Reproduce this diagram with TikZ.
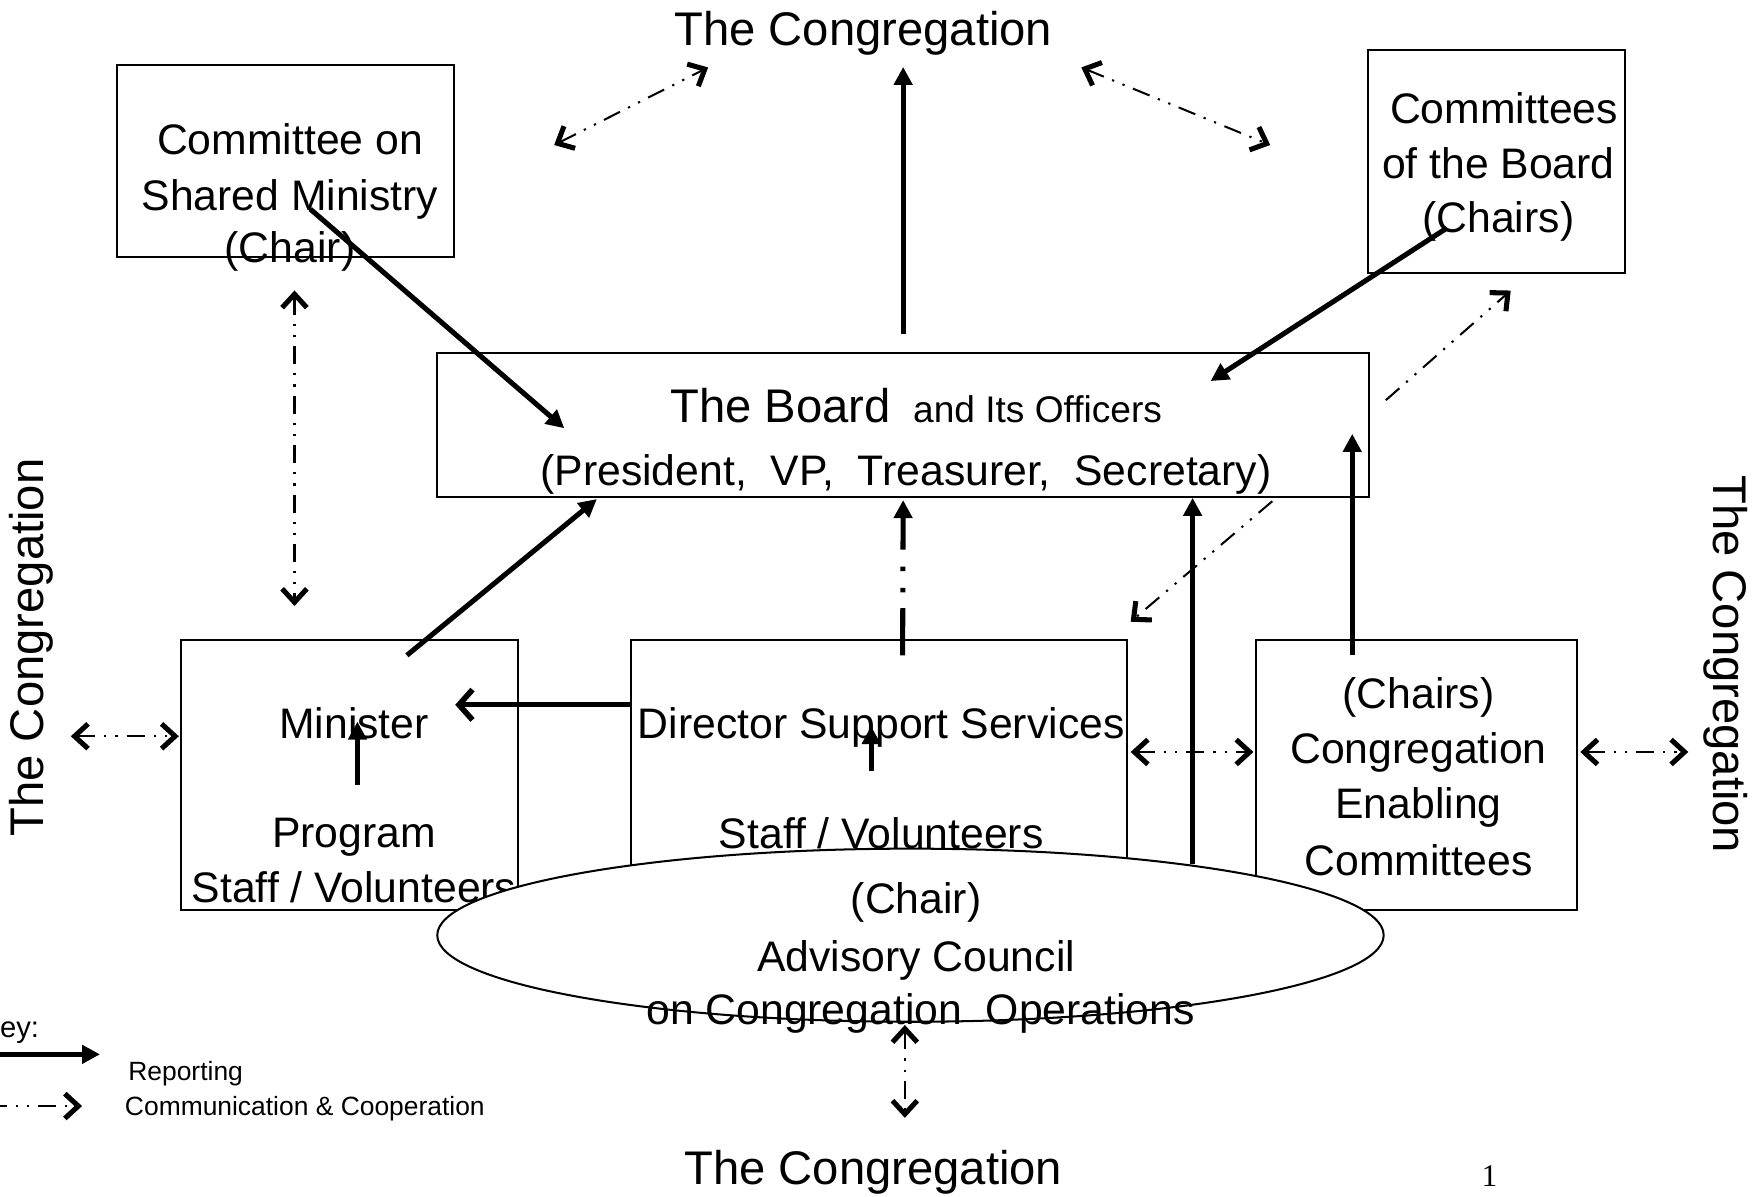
\documentclass[tikz,border=0pt]{standalone}
\usepackage{fontspec}
\setmainfont{Liberation Sans}
\newfontfamily\serifnum{Liberation Serif}
\usetikzlibrary{arrows.meta,calc,shapes.geometric}
\tikzset{
  bigtxt/.style={font=\fontsize{42}{50}\selectfont, inner sep=0pt, anchor=base},
  txt/.style={font=\fontsize{38}{50}\selectfont, inner sep=0pt, anchor=base},
  keytxt/.style={font=\fontsize{23.5}{28}\selectfont, inner sep=0pt, anchor=base west},
  box/.style={draw, rectangle, line width=1.8pt, inner sep=0pt},
  rep/.style={line width=4.5pt, -{Triangle[length=16pt,width=16pt]}},
  ctip/.tip={Straight Barb[length=12pt,width=22pt,line width=4.5pt]},
  commline/.style={line width=1.8pt, dash pattern=on 16pt off 8pt on 2pt off 8pt on 2pt off 8pt},
  comm2/.style={commline, ctip-ctip},
  comm1/.style={commline, -ctip},
}
\begin{document}
\begin{tikzpicture}[x=1pt,y=-1pt]
\useasboundingbox (0,0) rectangle (1564,1064.9);
% boxes
\node[box, minimum width=300pt, minimum height=171pt] (csm) at (254,143.5) {};
\node[box, minimum width=229pt, minimum height=198pt] (cob) at (1331.5,143.6) {};
\node[box, minimum width=829pt, minimum height=128pt] (board) at (803.5,378) {};
\node[box, minimum width=300pt, minimum height=241pt] (minister) at (311,689.5) {};
\node[box, minimum width=442pt, minimum height=241pt] (director) at (782,689.5) {};
\node[box, minimum width=286pt, minimum height=241pt] (enabling) at (1260,689.5) {};
% outer congregation labels
\node[bigtxt] (congTop) at (768,40.6) {The Congregation};
\node[bigtxt] (congBot) at (777,1053.5) {The Congregation};
\node[font=\fontsize{42}{50}\selectfont, inner sep=0pt, rotate=90] (congL) at (28,576) {The Congregation};
\node[font=\fontsize{42}{50}\selectfont, inner sep=0pt, rotate=-90] (congR) at (1535,591) {The Congregation};
% box texts
\node[txt] (csm1) at (258,137.5) {Committee on};
\node[txt] (csm2) at (258,187.7) {Shared Ministry};
\node[txt] (csm3) at (258,233.7) {(Chair)};
\node[txt] (cob1) at (1338,109.8) {Committees};
\node[txt] (cob2) at (1333,159) {of the Board};
\node[txt] (cob3) at (1333,206.6) {(Chairs)};
\node[inner sep=0pt, anchor=base] (board1) at (815,376) {{\fontsize{42}{50}\selectfont The Board}\hspace{20pt}{\fontsize{33}{40}\selectfont and Its Officers}};
\node[txt] (board2) at (806,432) {(President,\ \ VP,\ \ Treasurer,\ \ Secretary)};
\node[txt] (min1) at (315,657) {Minister};
\node[txt] (min2) at (315,754) {Program};
\node[txt] (min3) at (315,803) {Staff / Volunteers};
\node[txt] (dir1) at (784,657) {Director Support Services};
\node[txt] (dir2) at (784,755) {Staff / Volunteers};
\node[txt] (en1) at (1262,630) {(Chairs)};
\node[txt] (en2) at (1262,679.5) {Congregation};
\node[txt] (en3) at (1262,728) {Enabling};
\node[txt] (en4) at (1262,779) {Committees};
% reporting connectors
\draw[rep] ($(csm.center)+(22,42.5)$) -- ($(board.center)+(-301.5,3)$);
\draw[rep] ($(cob.center)+(-44.5,59.4)$) -- ($(board.center)+(273.5,-39)$);
\draw[rep] ($(board.north)+(0,-16)$) -- ($(board.north |- congTop.south)+(0,10)$);
\draw[rep] ($(minister.center)+(51,-106.5)$) -- ($(board.center)+(-272.5,66)$);
\draw[line width=4.5pt, -{Straight Barb[length=12pt,width=27pt,line width=5pt]}] ($(director.west)+(0,-62.5)$) -- ($(minister.center)+(94,-62.5)$);
\draw[line width=4.5pt, -{Triangle[length=16pt,width=16pt]}, dash pattern=on 42pt off 14pt on 4pt off 15pt on 4pt off 15pt on 300pt off 1pt] ($(director.center)+(21,-106.5)$) -- ($(board.south)+(0,2)$);
\draw[rep] ($(enabling.center)+(-57,-106.5)$) -- ($(board.center)+(399.5,8)$);
\draw[rep] ($(minister.center)+(7,8.5)$) -- ($(minister.center)+(7,-47.5)$);
\draw[rep] ($(director.center)+(-7,-3.5)$) -- ($(director.center)+(-7,-43.5)$);
% council ellipse
\node[draw, ellipse, fill=white, line width=1.8pt, inner sep=0pt, minimum width=842pt, minimum height=154pt] (council) at (810,832) {};
\node[txt] (co1) at (815,813) {(Chair)};
\node[txt] (co2) at (815,864) {Advisory Council};
\node[txt] (co3) at (819,911) {on Congregation\ \ Operations};
\draw[rep] ($(council.center)+(251,-63)$) -- ($(board.south)+(257.5,0)$);
% communication connectors
\draw[comm2] ($(congTop.base)+(-275,88.4)$) -- ($(congTop.base)+(-138,19.4)$);
\draw[comm2] ($(congTop.base)+(194,19.4)$) -- ($(congTop.base)+(362,88.4)$);
\draw[comm2] ($(csm.south)+(8,28.5)$) -- ($(minister.north)+(-49,-29)$);
\draw[comm1] ($(board.east)+(14,-22)$) -- ($(cob.south)+(12.5,15)$);
\draw[comm1] ($(board.south east)+(-87,3)$) -- ($(director.north east)+(2,-15)$);
\draw[comm2] ($(congL.center)+(35,79)$) -- ($(minister.west)+(-1,-34.5)$);
\draw[comm2] ($(director.east)+(2,-20.5)$) -- ($(enabling.west)+(-1,-20.5)$);
\draw[comm2] ($(enabling.east)+(2,-20.5)$) -- ($(congR.center)+(-33,78)$);
\draw[comm2] ($(council.south)+(-5,2)$) -- ($(congBot.base)+(28,-59)$);
% key
\node[font=\fontsize{26}{30}\selectfont, inner sep=0pt, anchor=base east] (keyT) at (35,923) {ey:};
\coordinate (krs) at (-10,938);
\coordinate (kre) at (89,938);
\draw[rep] (krs) -- (kre);
\node[keytxt] (keyRep) at (114,961) {Reporting};
\coordinate (kcs) at (-10,984);
\coordinate (kce) at (73,984);
\draw[comm1] (kcs) -- (kce);
\node[keytxt] (keyCom) at (111,992.5) {Communication \& Cooperation};
% page number
\node[font=\serifnum\fontsize{28}{30}\selectfont, inner sep=0pt, anchor=base] (pg) at (1325,1056) {1};
\end{tikzpicture}
\end{document}
